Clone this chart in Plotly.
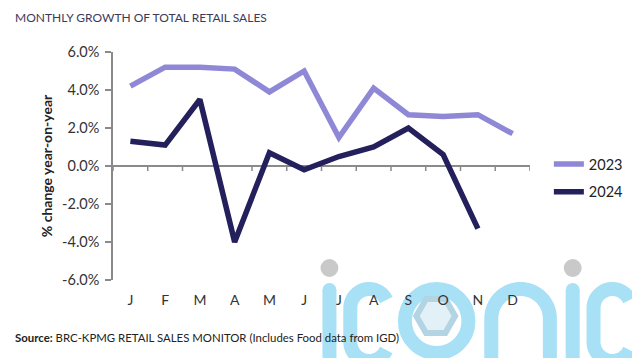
import math
import plotly.graph_objects as go

months = ["J", "F", "M", "A", "M", "J", "J", "A", "S", "O", "N", "D"]
growth_2023 = [4.2, 5.2, 5.2, 5.1, 3.9, 5.0, 1.5, 4.1, 2.7, 2.6, 2.7, 1.7]
growth_2024 = [1.3, 1.1, 3.5, -4.0, 0.7, -0.2, 0.5, 1.0, 2.0, 0.6, -3.3]
y_tick_vals = [-6, -4, -2, 0, 2, 4, 6]
y_tick_text = ["-6.0%", "-4.0%", "-2.0%", "0.0%", "2.0%", "4.0%", "6.0%"]

# page body has an 8px margin, so the figure is drawn 8px in from the window edge
PAGE_OFF = 8
W, H = 640 - PAGE_OFF, 358 - PAGE_OFF
ML, MR, MT, MB = 113 - PAGE_OFF, 107, 52 - PAGE_OFF, 78
PW, PH = W - ML - MR, H - MT - MB
Y_MIN, Y_MAX = -6, 6


def px(x, y):
    """window pixel -> paper coords"""
    return ((x - PAGE_OFF - ML) / PW, (H - MB + PAGE_OFF - y) / PH)


idx = list(range(len(months)))
boundaries = [i - 0.5 for i in range(len(months) + 1)]
tick_len = 5 * (Y_MAX - Y_MIN) / PH
tick_x, tick_y = [], []
for b in boundaries:
    tick_x += [b, b, None]
    tick_y += [0, -tick_len, None]

fig = go.Figure()
fig.add_trace(go.Scatter(x=tick_x, y=tick_y, mode="lines", showlegend=False, hoverinfo="skip",
                         line=dict(color="#8a8a8a", width=1.5)))
fig.add_trace(go.Scatter(x=idx, y=growth_2023, mode="lines", name="2023", legendgroup="a",
                         line=dict(color="#8f88d6", width=5.5)))
fig.add_trace(go.Scatter(x=idx[:len(growth_2024)], y=growth_2024, mode="lines", name="2024",
                         legendgroup="b", line=dict(color="#24205c", width=5.5)))

# ---- faint "iconic" watermark logo (decoration) ----
BLUE = "#a8e1f6"
GREY = "#c9c9c9"
SW = 14
shapes = []


def path_from(points):
    s = ""
    for i, (x, y) in enumerate(points):
        X, Y = px(x, y)
        s += ("M" if i == 0 else "L") + f"{X:.5f},{Y:.5f} "
    return s


def add_i(cx, dot_y):
    X0, Y0 = px(cx - 9, dot_y - 9)
    X1, Y1 = px(cx + 9, dot_y + 9)
    shapes.append(dict(type="circle", xref="paper", yref="paper", x0=X0, x1=X1, y0=Y1, y1=Y0,
                       fillcolor=GREY, line=dict(width=0), layer="below"))
    shapes.append(dict(type="path", xref="paper", yref="paper",
                       path=path_from([(cx, 290), (cx, 375)]),
                       line=dict(color=BLUE, width=SW), layer="below"))
    X0, Y0 = px(cx - SW / 2, 283)
    X1, Y1 = px(cx + SW / 2, 297)
    shapes.append(dict(type="circle", xref="paper", yref="paper", x0=X0, x1=X1, y0=Y1, y1=Y0,
                       fillcolor=BLUE, line=dict(width=0), layer="below"))


def add_c(left, right):
    r = (right - left - SW) / 2
    cx = (left + right) / 2
    yt = 282 + SW / 2 + r
    yb = 342
    pts = []
    for k in range(0, 41):
        th = math.radians(25 + (180 - 25) * k / 40)
        pts.append((cx + r * math.cos(th), yt - r * math.sin(th)))
    for k in range(0, 41):
        th = math.radians(180 + 155 * k / 40)
        pts.append((cx + r * math.cos(th), yb - r * math.sin(th)))
    shapes.append(dict(type="path", xref="paper", yref="paper", path=path_from(pts),
                       line=dict(color=BLUE, width=SW), layer="below"))


def add_o(left, right, top):
    r = (right - left - SW) / 2
    cx = (left + right) / 2
    cy = top + SW / 2 + r
    X0, Y0 = px(cx - r, cy - r)
    X1, Y1 = px(cx + r, cy + r)
    shapes.append(dict(type="circle", xref="paper", yref="paper", x0=X0, x1=X1, y0=Y1, y1=Y0,
                       line=dict(color=BLUE, width=SW), layer="below"))
    hx = [(438 + 19.5 * math.cos(math.radians(60 * k)), 316 + 19.5 * math.sin(math.radians(60 * k)))
          for k in range(7)]
    shapes.append(dict(type="path", xref="paper", yref="paper", path=path_from(hx) + "Z",
                       fillcolor="#e2f1f8", line=dict(color="#b3d4e3", width=6), layer="below"))


def add_n(left, right, top):
    r = (right - left - SW) / 2
    cx = (left + right) / 2
    cy = top + SW / 2 + r
    pts = [(cx - r, 375), (cx - r, cy)]
    for k in range(0, 41):
        th = math.radians(180 - 180 * k / 40)
        pts.append((cx + r * math.cos(th), cy - r * math.sin(th)))
    pts.append((cx + r, 375))
    shapes.append(dict(type="path", xref="paper", yref="paper", path=path_from(pts),
                       line=dict(color=BLUE, width=SW), layer="below"))


add_i(331, 268)
add_c(345, 397)
add_o(400, 478, 282)
add_n(487, 560, 282)
add_i(576, 268)
add_c(590, 642)

lx, ly = px(557, 148)

fig.update_layout(
    width=W, height=H,
    margin=dict(l=ML, r=MR, t=MT, b=MB),
    paper_bgcolor="white", plot_bgcolor="rgba(0,0,0,0)",
    font=dict(family="Lato", color="#333333"),
    showlegend=True,
    shapes=shapes,
    legend=dict(x=lx - 5 / PW, y=ly, xanchor="left", yanchor="top", traceorder="grouped",
                font=dict(size=14.5, color="#222222"), itemwidth=30,
                tracegroupgap=6, bgcolor="rgba(0,0,0,0)"),
    xaxis=dict(range=[boundaries[0], boundaries[-1]], tickvals=idx, ticktext=months,
               showline=False, showgrid=False, zeroline=False, ticks="",
               tickfont=dict(size=14, color="#333333"), ticklabelstandoff=10),
    yaxis=dict(range=[Y_MIN, Y_MAX], tickvals=y_tick_vals, ticktext=y_tick_text,
               showline=True, linecolor="#8a8a8a", linewidth=1.5,
               ticks="outside", ticklen=6, tickwidth=1.5, tickcolor="#8a8a8a",
               showgrid=False, zeroline=True, zerolinecolor="#8a8a8a", zerolinewidth=1.5,
               tickfont=dict(size=14.5, color="#333333"), ticklabelstandoff=3,
               title=dict(text="<b>% change year-on-year</b>", font=dict(size=14, color="#222222"),
                          standoff=6)),
)

tx, ty = px(12, 17)
fig.add_annotation(text="MONTHLY GROWTH OF TOTAL RETAIL SALES", xref="paper", yref="paper",
                   x=tx, y=ty, xanchor="left", yanchor="middle", showarrow=False,
                   font=dict(size=12, color="#3c3a5c"))
sx, sy = px(12, 337)
fig.add_annotation(text="<b>Source:</b> BRC-KPMG RETAIL SALES MONITOR (Includes Food data from IGD)",
                   xref="paper", yref="paper", x=sx, y=sy, xanchor="left",
                   yanchor="middle", showarrow=False, font=dict(size=11.4, color="#222222"))

fig.write_html("out.html")
